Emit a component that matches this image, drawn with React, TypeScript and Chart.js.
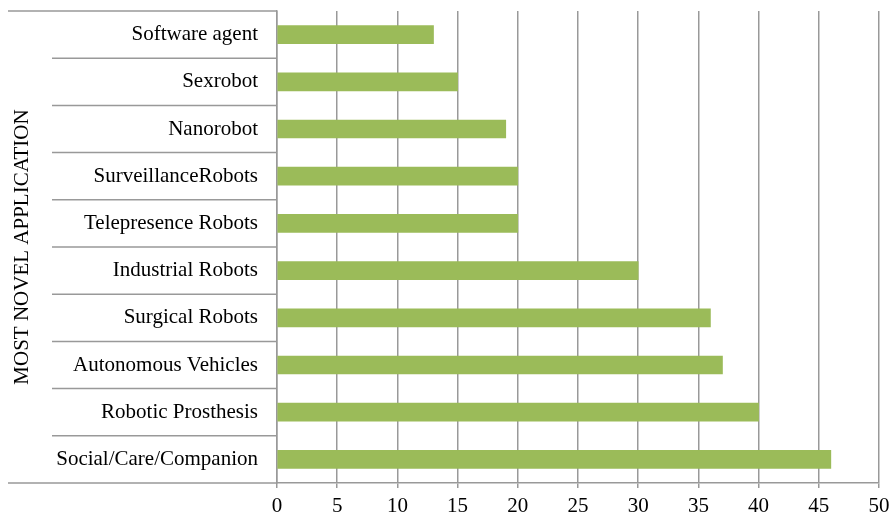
import React, { useEffect, useRef } from "react";
import { Chart, registerables } from "chart.js";

Chart.register(...registerables);

const categories = [
  "Software agent",
  "Sexrobot",
  "Nanorobot",
  "SurveillanceRobots",
  "Telepresence Robots",
  "Industrial Robots",
  "Surgical Robots",
  "Autonomous Vehicles",
  "Robotic Prosthesis",
  "Social/Care/Companion",
];
const values = [13, 15, 19, 20, 20, 30, 36, 37, 40, 46];
const axisTitle = "MOST NOVEL APPLICATION";
const xMin = 0;
const xMax = 50;
const xStep = 5;

const FONT = "'Liberation Serif', 'Times New Roman', serif";
const GRID = "#999999";

const separatorPlugin = {
  id: "separators",
  afterDraw(chart: any) {
    const ctx = chart.ctx;
    const y = chart.scales.y;
    const area = chart.chartArea;
    const n = categories.length;
    ctx.save();
    ctx.strokeStyle = GRID;
    ctx.lineWidth = 1.5;
    for (let i = 0; i <= n; i++) {
      let py: number;
      if (i === 0) py = area.top;
      else if (i === n) py = area.bottom;
      else py = (y.getPixelForTick(i - 1) + y.getPixelForTick(i)) / 2;
      const x0 = i === 0 || i === n ? 8 : 52;
      ctx.beginPath();
      ctx.moveTo(x0, py);
      ctx.lineTo(area.left, py);
      ctx.stroke();
    }
    ctx.restore();
  },
};

export default function App() {
  const ref = useRef<HTMLCanvasElement | null>(null);

  useEffect(() => {
    if (!ref.current) return;
    const chart = new Chart(ref.current, {
      type: "bar",
      data: {
        labels: categories,
        datasets: [
          {
            data: values,
            backgroundColor: "#9BBB59",
            borderWidth: 0,
            barThickness: 18,
          },
        ],
      },
      options: {
        indexAxis: "y",
        animation: false,
        responsive: false,
        maintainAspectRatio: false,
        layout: { padding: { top: 11, right: 0, left: 0, bottom: 0 } },
        plugins: { legend: { display: false }, tooltip: { enabled: false } },
        scales: {
          x: {
            min: xMin,
            max: xMax,
            ticks: {
              stepSize: xStep,
              color: "#000",
              font: { family: FONT, size: 21 },
              padding: 6,
            },
            grid: {
              color: GRID,
              lineWidth: 1.5,
              drawTicks: true,
              tickLength: 5,
            },
            border: { display: true, color: GRID, width: 1.5 },
            afterFit(scale: any) {
              scale.height = 34;
              scale.paddingRight = 12;
              scale.paddingLeft = 0;
            },
          },
          y: {
            grid: { display: false, drawTicks: true, tickLength: 19 },
            border: { display: true, color: GRID, width: 1.5 },
            ticks: {
              color: "#000",
              font: { family: FONT, size: 21, lineHeight: 1.0 },
              padding: 0,
            },
            title: {
              display: true,
              text: axisTitle,
              color: "#000",
              font: { family: FONT, size: 21 },
              padding: { top: 10, bottom: 0 },
            },
            afterFit(scale: any) {
              scale.width = 277;
            },
          },
        },
      },
      plugins: [separatorPlugin],
    } as any);
    return () => chart.destroy();
  }, []);

  return (
    <div style={{ position: "fixed", left: 0, top: 0, width: 891, height: 517, background: "#fff" }}>
      <canvas ref={ref} width={891} height={517} style={{ width: 891, height: 517 }} />
    </div>
  );
}
